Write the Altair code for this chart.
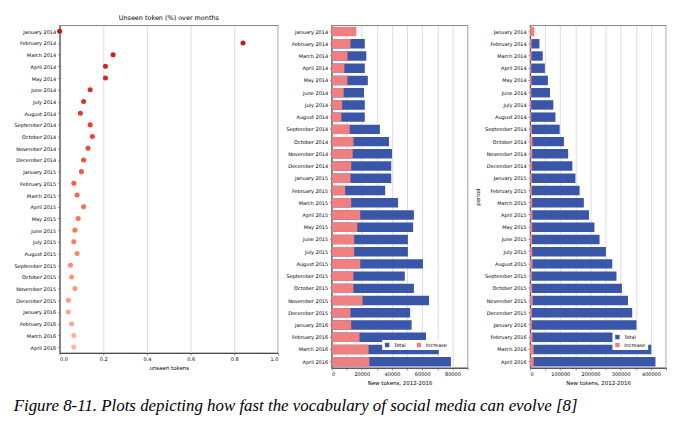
import pandas as pd
import altair as alt

months = ["January 2014", "February 2014", "March 2014", "April 2014", "May 2014", "June 2014",
          "July 2014", "August 2014", "September 2014", "October 2014", "November 2014",
          "December 2014", "January 2015", "February 2015", "March 2015", "April 2015",
          "May 2015", "June 2015", "July 2015", "August 2015", "September 2015",
          "October 2015", "November 2015", "December 2015", "January 2016", "February 2016",
          "March 2016", "April 2016"]

unseen = [0.0, 0.84, 0.245, 0.21, 0.21, 0.14, 0.11, 0.095, 0.14, 0.15, 0.13, 0.11, 0.10, 0.065,
          0.08, 0.11, 0.085, 0.07, 0.065, 0.08, 0.05, 0.055, 0.07, 0.04, 0.04, 0.055, 0.065, 0.065]

new_total = [0, 22000, 23000, 22000, 24000, 21500, 22000, 22000, 32000, 38000, 40000, 39500,
             39500, 35500, 44000, 54500, 54000, 50500, 50500, 60500, 48500, 54500, 64500,
             52000, 53000, 62500, 71000, 79000]
new_increase = [16400, 12500, 10500, 8500, 10500, 8000, 7000, 6500, 12000, 14500, 14000, 13000,
                12500, 9000, 13000, 19000, 17000, 15000, 15000, 19000, 14500, 14500, 20500,
                12500, 13000, 18500, 24500, 25000]

cum_total = [0, 31000, 42000, 49000, 59000, 66000, 77000, 84000, 98000, 112000, 126000, 140000,
             150000, 164000, 178000, 195000, 213000, 230000, 251000, 272000, 286000, 304000,
             324000, 338000, 352000, 373000, 401000, 415000]
cum_increase = [14000, 5000, 5000, 4000, 5000, 4000, 4000, 4000, 6000, 8000, 7000, 7000,
                6000, 6000, 7000, 8000, 7000, 7000, 7000, 8000, 6000, 7000, 9000, 6000,
                6000, 8000, 12000, 12000]

font = "DejaVu Sans"

left_df = pd.DataFrame({"period": months, "unseen": unseen, "idx": range(len(months))})
left = (alt.Chart(left_df, title=alt.Title("Unseen token (%) over months", fontSize=6.5,
                                          fontWeight="normal", font=font))
        .mark_circle(size=26, opacity=1)
        .encode(
            x=alt.X("unseen:Q", title="unseen tokens", scale=alt.Scale(domain=[0, 1]),
                    axis=alt.Axis(values=[0, 0.2, 0.4, 0.6, 0.8, 1.0], format=".1f")),
            y=alt.Y("period:N", sort=months, title=None, axis=alt.Axis(grid=False)),
            color=alt.Color("idx:Q", scale=alt.Scale(scheme="reds", reverse=True,
                                                     domain=[-6, 30]), legend=None)
        ).properties(width=220, height=330))


def bars(total, inc, xmax, ticks, legend_dir, ytitle):
    df = pd.concat([
        pd.DataFrame({"period": months, "value": total, "series": "Total"}),
        pd.DataFrame({"period": months, "value": inc, "series": "Increase"}),
    ])
    return (alt.Chart(df)
            .mark_bar(height=9.5)
            .encode(
                x=alt.X("value:Q", stack=None, title="New tokens, 2012-2016",
                        scale=alt.Scale(domain=[0, xmax], nice=False),
                        axis=alt.Axis(values=ticks, format="d")),
                y=alt.Y("period:N", sort=months, title=ytitle, axis=alt.Axis(grid=False)),
                color=alt.Color("series:N", scale=alt.Scale(domain=["Total", "Increase"],
                                range=["#3a56a8", "#f08080"]),
                                legend=alt.Legend(title=None, orient="bottom-right",
                                                  direction=legend_dir, symbolType="square",
                                                  fillColor="white", labelFontSize=5,
                                                  symbolSize=20, padding=2))
            ).properties(width=137, height=345))


middle = bars(new_total, new_increase, 90000, list(range(0, 90001, 10000)), "horizontal", None)
right = bars(cum_total, cum_increase, 450000, list(range(0, 450001, 50000)), "vertical", "period")

chart = (alt.hconcat(left, middle, right, spacing=6)
         .resolve_scale(color="independent")
         .properties(title=alt.Title("Figure 8-11. Plots depicting how fast the vocabulary of social media can evolve [8]",
                                     orient="bottom", font="Liberation Serif", fontSize=17,
                                     fontStyle="italic", fontWeight="normal", anchor="start",
                                     offset=12))
         .configure_axis(labelFontSize=5, titleFontSize=5.5, labelFont=font, titleFont=font,
                         gridColor="#dddddd", domainColor="#444", tickSize=2, labelPadding=2,
                         titleFontWeight="normal")
         .configure_view(stroke="#333", strokeWidth=0.6)
         .configure_legend(labelFont=font))

chart.save("out.html", embed_options={"renderer": "svg", "actions": False})
